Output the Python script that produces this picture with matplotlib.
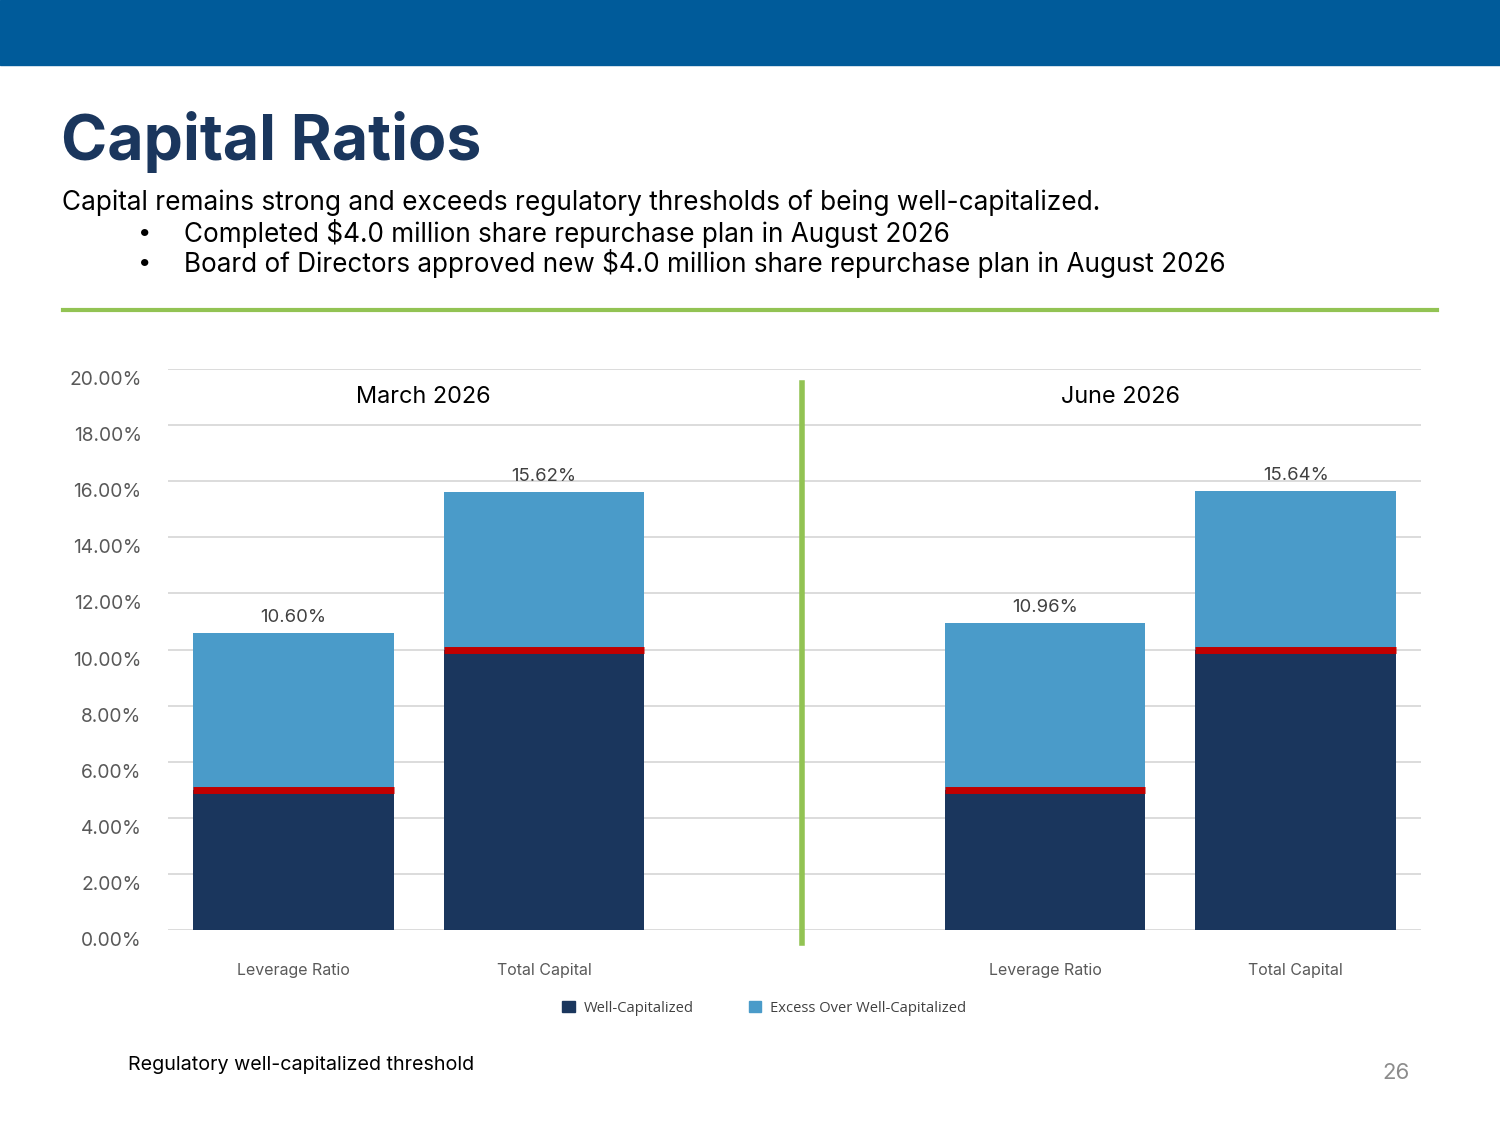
import matplotlib
matplotlib.use('Agg')
import matplotlib.pyplot as plt
from matplotlib.patches import Rectangle, Patch
from matplotlib.lines import Line2D
from matplotlib.transforms import ScaledTranslation

# данные графика
categories = ['Leverage Ratio', 'Total Capital', 'Leverage Ratio', 'Total Capital']
positions = [0, 1, 3, 4]
well_capitalized = [5.00, 10.00, 5.00, 10.00]
excess = [5.60, 5.62, 5.96, 5.64]
totals = [10.60, 15.62, 10.96, 15.64]
periods = ['March 2026', 'June 2026']
period_x = [0.52, 3.30]
y_ticks = [0, 2, 4, 6, 8, 10, 12, 14, 16, 18, 20]

NAVY = '#1A365D'
LIGHT = '#4A9BC9'
RED = '#C00000'
GREEN = '#92C353'
BANNER = '#005B9A'
FONT = 'Inter'


def main():
    plt.rcParams['font.family'] = [FONT, 'DejaVu Sans']
    fig = plt.figure(figsize=(15, 11.25), dpi=100)

    # верхняя полоса
    fig.patches.append(Rectangle((0, 1 - 65 / 1125), 1, 65 / 1125,
                                 transform=fig.transFigure, color=BANNER, zorder=0))

    # заголовок и текст
    fig.text(61 / 1500, 1 - 142 / 1125, 'Capital Ratios', fontsize=45, fontweight='bold',
             color=NAVY, va='center', ha='left')
    fig.text(62 / 1500, 1 - 203 / 1125,
             'Capital remains strong and exceeds regulatory thresholds of being well-capitalized.',
             fontsize=18.9, color='black', va='center', ha='left')
    bullets = ['Completed $4.0 million share repurchase plan in August 2026',
               'Board of Directors approved new $4.0 million share repurchase plan in August 2026']
    for i, b in enumerate(bullets):
        y = 1 - (233 + 30 * i) / 1125
        fig.text(138 / 1500, y, '•', fontsize=17, va='center', ha='left')
        fig.text(184 / 1500, y, b, fontsize=18.8, va='center', ha='left')

    # зелёная линия
    fig.add_artist(Line2D([63 / 1500, 1437 / 1500], [1 - 310 / 1125, 1 - 310 / 1125],
                          transform=fig.transFigure, color=GREEN, lw=3))

    ax = fig.add_axes([168 / 1500, 1 - 930 / 1125, (1421 - 168) / 1500, (930 - 369) / 1125])
    ax.bar(positions, well_capitalized, width=0.8, color=NAVY, zorder=2)
    ax.bar(positions, excess, width=0.8, bottom=well_capitalized, color=LIGHT, zorder=2)

    # пороговые линии
    for p, w in zip(positions, well_capitalized):
        ax.plot([p - 0.4, p + 0.4], [w, w], color=RED, lw=5, zorder=3, solid_capstyle='butt')

    for p, t in zip(positions, totals):
        ax.text(p, t + 0.25, f'{t:.2f}%', ha='center', va='bottom', fontsize=13.3, color='#404040')

    for x, name in zip(period_x, periods):
        ax.text(x, 19.0, name, ha='center', va='center', fontsize=16.9, color='black')

    ax.set_xlim(-0.5, 4.5)
    ax.set_ylim(0, 20)
    ax.set_yticks(y_ticks)
    ax.set_yticklabels([f'{v:.2f}%' for v in y_ticks])
    ax.set_xticks(positions)
    ax.set_xticklabels(categories)
    ax.tick_params(axis='y', length=0, pad=19, labelsize=13.8, labelcolor='#595959')
    ax.tick_params(axis='x', length=0, pad=24, labelsize=11.5, labelcolor='#595959')
    shift = ScaledTranslation(0, -9 / 100, fig.dpi_scale_trans)
    for lab in ax.get_yticklabels():
        lab.set_transform(lab.get_transform() + shift)
    ax.grid(axis='y', color='#D9D9D9', lw=1.3, zorder=0)
    for s in ax.spines.values():
        s.set_visible(False)

    # вертикальный разделитель
    ax.plot([2.03, 2.03], [-0.45, 19.5], color=GREEN, lw=4, clip_on=False, zorder=4)

    handles = [Patch(color=NAVY, label='Well-Capitalized'),
               Patch(color=LIGHT, label='Excess Over Well-Capitalized')]
    fig.legend(handles=handles, loc='center', bbox_to_anchor=(764 / 1500, 1 - 1008 / 1125),
               ncol=2, frameon=False, handlelength=0.85, handleheight=0.85,
               columnspacing=3.75, handletextpad=0.6, labelcolor='#404040',
               prop={'family': ['Open Sans', 'DejaVu Sans'], 'size': 10.6})

    fig.text(128 / 1500, 1 - 1065 / 1125, 'Regulatory well-capitalized threshold',
             fontsize=14.2, va='center', ha='left')
    fig.text(1410 / 1500, 1 - 1073 / 1125, '26', fontsize=16, color='#8C8C8C',
             va='center', ha='right')

    fig.savefig('out.png', dpi=100)


if __name__ == '__main__':
    main()
